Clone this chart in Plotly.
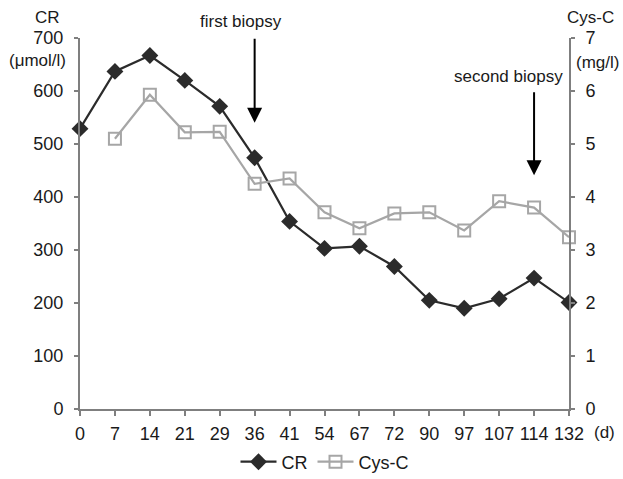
import plotly.graph_objects as go

days = ["0", "7", "14", "21", "29", "36", "41", "54", "67", "72", "90", "97", "107", "114", "132"]
cr_days = days
cr_values = [529, 637, 667, 620, 571, 474, 354, 303, 307, 269, 205, 190, 208, 247, 201]
cys_days = days[1:]
cys_values = [5.1, 5.93, 5.22, 5.23, 4.25, 4.35, 3.71, 3.41, 3.69, 3.71, 3.37, 3.92, 3.8, 3.24]
biopsy_days = ["36", "114"]

FONT = "Liberation Sans, Arial, sans-serif"
AX = "#7f7f7f"
L, R, T, B = 80, 54, 38, 70
W, H = 623, 479
PW, PH = W - L - R, H - T - B

fig = go.Figure()
fig.add_trace(go.Scatter(
    x=cr_days, y=cr_values, name="CR", mode="lines+markers",
    line=dict(color="#2b2b2b", width=2.2),
    marker=dict(symbol="diamond", size=13, color="#2b2b2b"),
    cliponaxis=False,
))
fig.add_trace(go.Scatter(
    x=cys_days, y=cys_values, name="Cys-C", mode="lines+markers", yaxis="y2",
    line=dict(color="#a6a6a6", width=2.2),
    marker=dict(symbol="square-open", size=12, color="#a6a6a6", line=dict(width=2)),
    cliponaxis=False,
))

fig.update_layout(
    width=W, height=H,
    margin=dict(l=L, r=R, t=T, b=B, autoexpand=False),
    paper_bgcolor="white", plot_bgcolor="white",
    font=dict(family=FONT, size=18, color="#1a1a1a"),
    showlegend=True,
    legend=dict(orientation="h", x=0.5, xanchor="center",
                yref="container", y=1 - 462 / H, yanchor="middle",
                font=dict(size=18), itemwidth=36),
    xaxis=dict(type="category", categoryorder="array", categoryarray=days,
               range=[0, 14], showline=True, linecolor=AX, linewidth=2,
               ticks="outside", ticklen=5, tickcolor=AX, tickwidth=2,
               ticklabelstandoff=2, automargin=False,
               showgrid=False, zeroline=False, tickfont=dict(size=18)),
    yaxis=dict(range=[0, 700], dtick=100, showline=True, linecolor=AX, linewidth=2,
               ticks="outside", ticklen=4, tickcolor=AX, tickwidth=2,
               ticklabelstandoff=7, automargin=False,
               showgrid=False, zeroline=False, tickfont=dict(size=18)),
    yaxis2=dict(range=[0, 7], dtick=1, overlaying="y", side="right",
                showline=True, linecolor=AX, linewidth=2,
                ticks="outside", ticklen=4, tickcolor=AX, tickwidth=2,
                ticklabelstandoff=7, automargin=False,
                showgrid=False, zeroline=False, tickfont=dict(size=18)),
)

ann = [
    dict(text="CR", x=47, y=17),
    dict(text="(μmol/l)", x=37, y=60),
    dict(text="Cys-C", x=590, y=17),
    dict(text="(mg/l)", x=597, y=62),
    dict(text="(d)", x=604, y=432),
    dict(text="first biopsy", x=241, y=22),
    dict(text="second biopsy", x=508, y=76),
]
for a in ann:
    fig.add_annotation(text=a["text"], x=(a["x"] - L) / PW, y=(H - B - a["y"]) / PH,
                       xref="paper", yref="paper", showarrow=False,
                       xanchor="center", yanchor="middle",
                       font=dict(family=FONT, size=17, color="#1a1a1a"))

# arrows (biopsy markers); category axes take serial numbers in annotations
fig.add_annotation(x=days.index(biopsy_days[0]), y=540, xref="x", yref="y", ax=0, ay=-86,
                   showarrow=True, arrowhead=2, arrowsize=1.5, arrowwidth=2, arrowcolor="black",
                   text=" ", font=dict(size=1), standoff=0, startstandoff=0)
fig.add_annotation(x=days.index(biopsy_days[1]), y=4.41, xref="x", yref="y2", ax=0, ay=-85,
                   showarrow=True, arrowhead=2, arrowsize=1.5, arrowwidth=2, arrowcolor="black",
                   text=" ", font=dict(size=1), standoff=0, startstandoff=0)

fig.write_html("out.html", config={"displayModeBar": False},
               post_script="document.body.style.margin='0';")
